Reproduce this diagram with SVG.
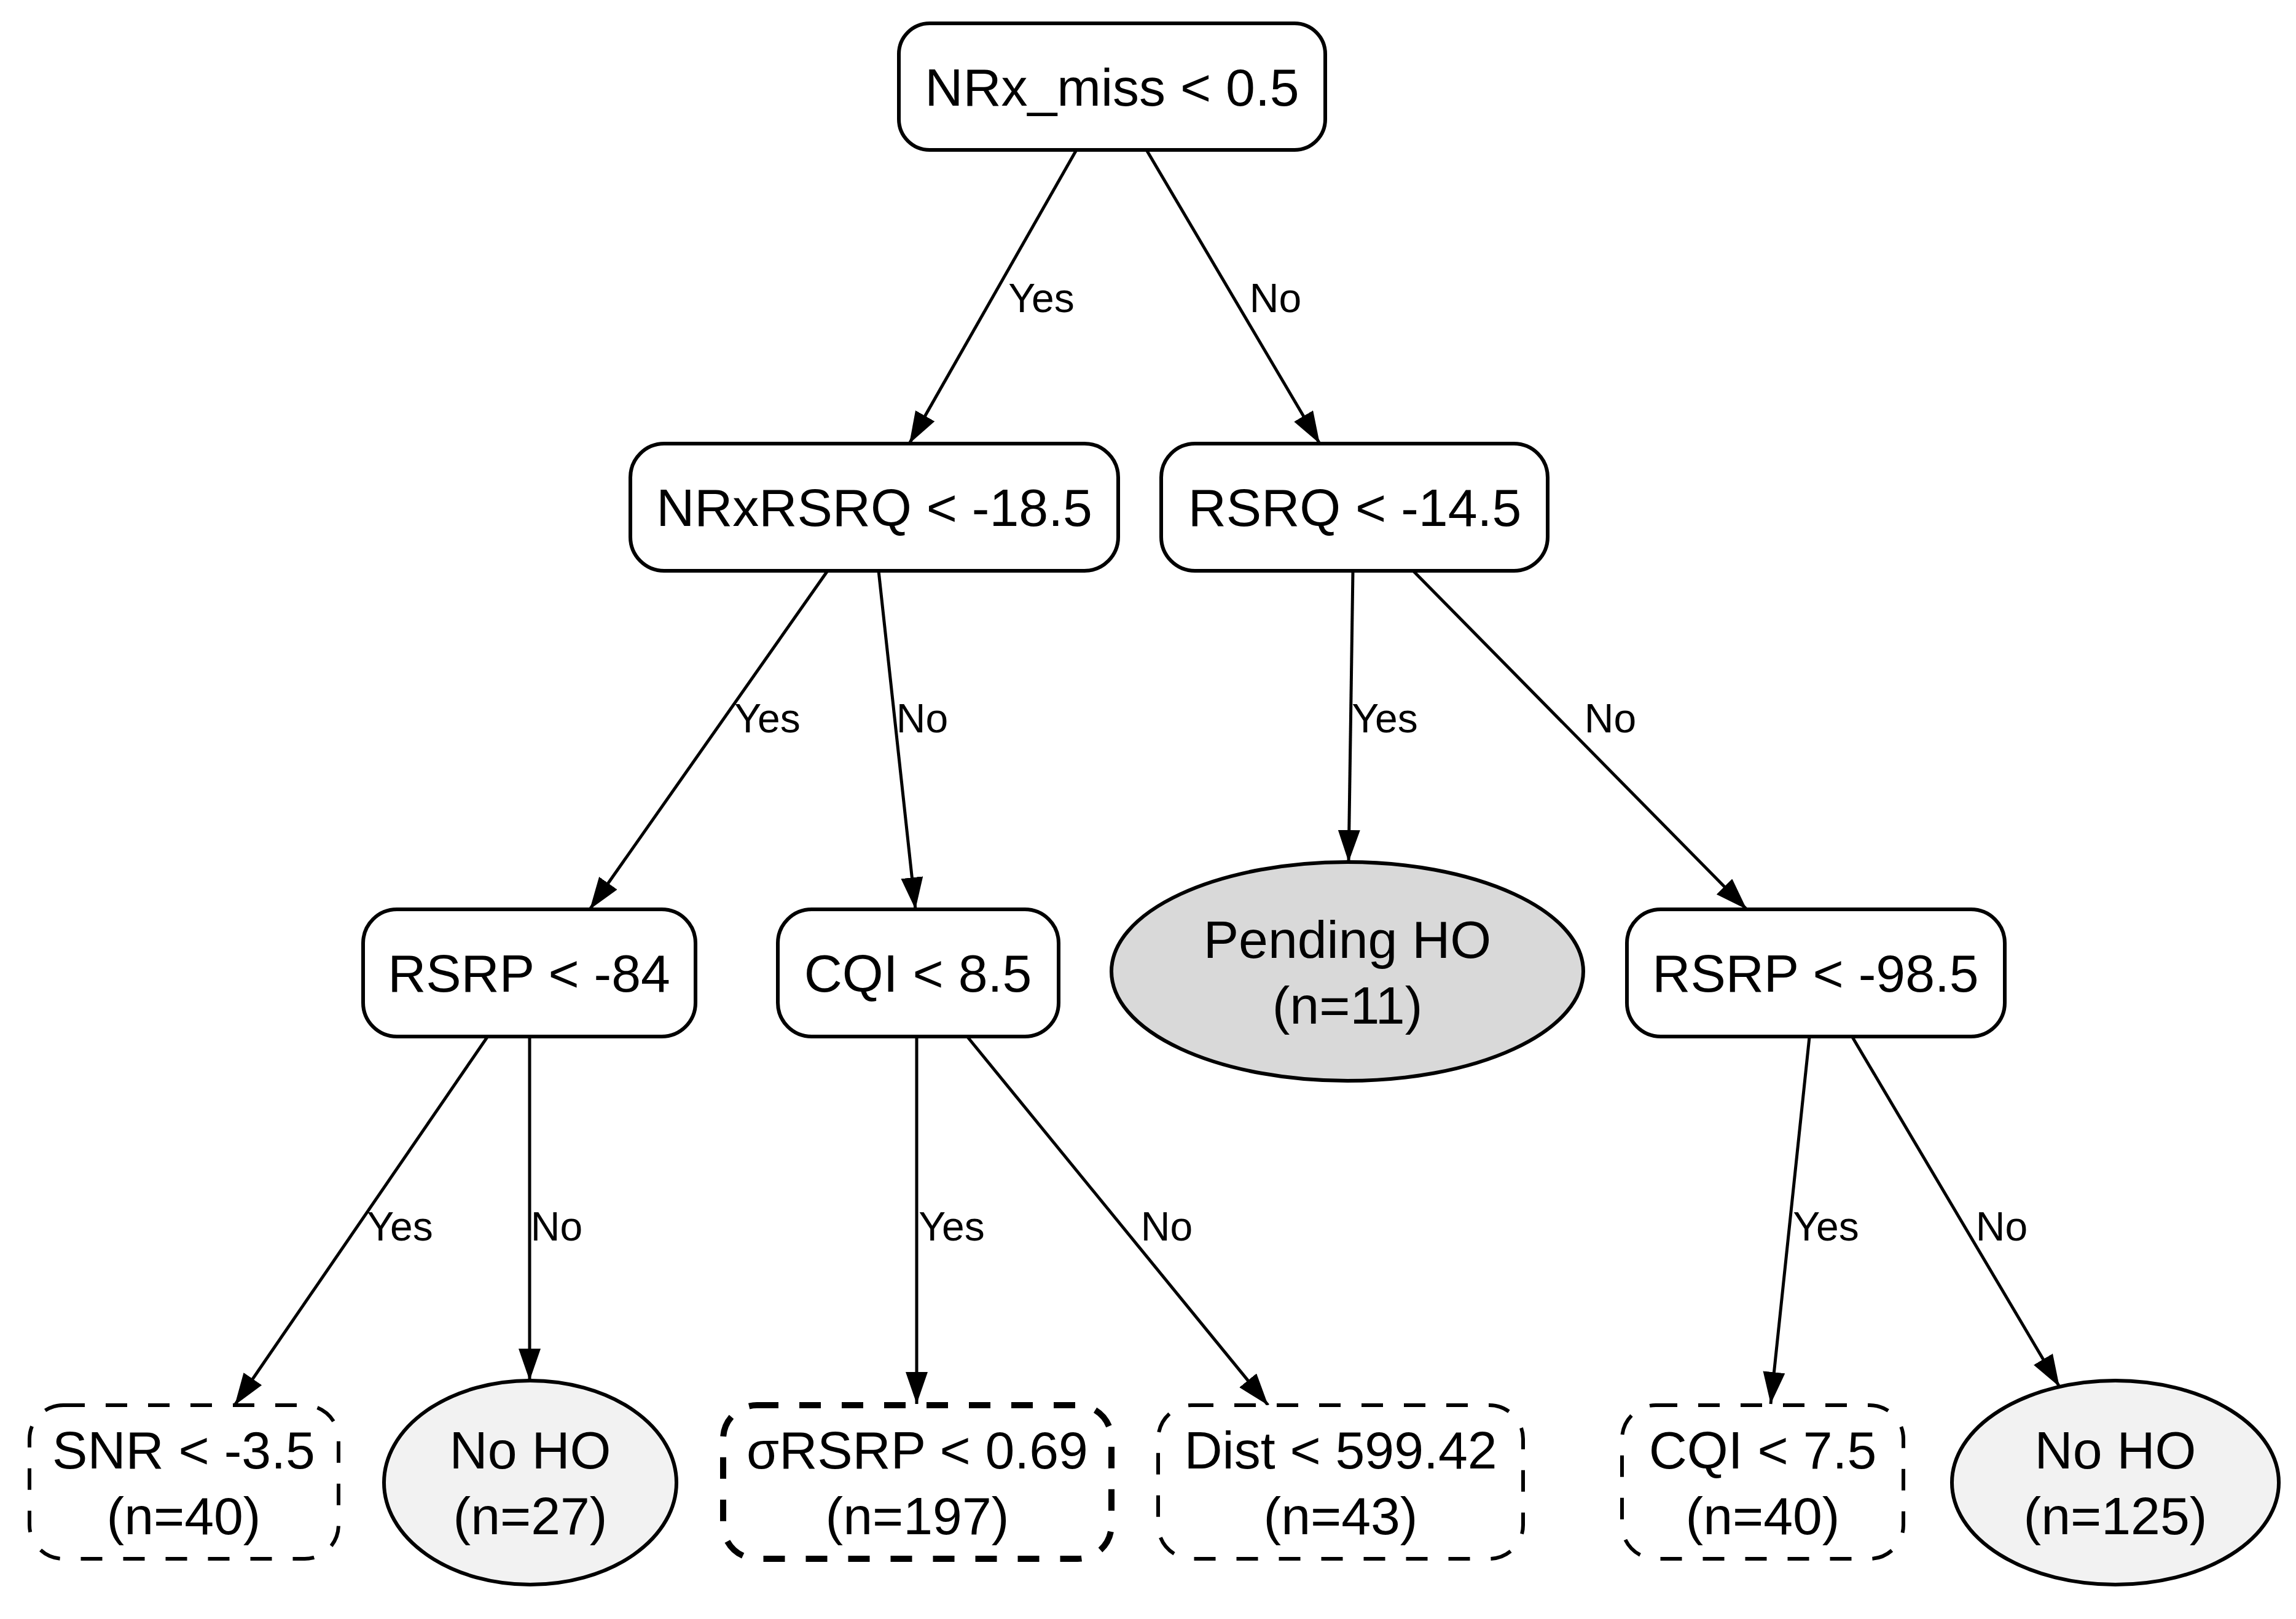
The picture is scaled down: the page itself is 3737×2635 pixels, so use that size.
<svg xmlns="http://www.w3.org/2000/svg" width="3737" height="2635" viewBox="0 0 3737 2635">
<style>
.t{font-family:"Liberation Sans",Arial,sans-serif;font-size:86px;text-anchor:middle;fill:#000}
.l{font-family:"Liberation Sans",Arial,sans-serif;font-size:66px;text-anchor:middle;fill:#000}
.box{fill:#fff;stroke:#000;stroke-width:6}
.dash{fill:#fff;stroke:#000;stroke-width:6;stroke-dasharray:35 34}
.thick{fill:#fff;stroke:#000;stroke-width:10;stroke-dasharray:35 34}
.leafg{fill:#d9d9d9;stroke:#000;stroke-width:6}
.leafl{fill:#f2f2f2;stroke:#000;stroke-width:6}
.e{stroke:#000;stroke-width:5;fill:none;marker-end:url(#arr)}
</style>
<defs>
<marker id="arr" markerUnits="userSpaceOnUse" markerWidth="54" markerHeight="38" refX="52" refY="18" orient="auto" viewBox="0 0 54 38">
<path d="M0,0 L52,18 L0,36 Z" fill="#000"/>
</marker>
</defs>
<rect width="3737" height="2635" fill="#fff"/>
<g id="edges">
<line class="e" x1="1752" y1="244" x2="1480" y2="722"/>
<line class="e" x1="1866" y1="244" x2="2148" y2="722"/>
<line class="e" x1="1347" y1="929" x2="960" y2="1480"/>
<line class="e" x1="1430" y1="929" x2="1490" y2="1480"/>
<line class="e" x1="2202" y1="929" x2="2195" y2="1403"/>
<line class="e" x1="2300" y1="929" x2="2843" y2="1480"/>
<line class="e" x1="793" y1="1688" x2="382" y2="2287"/>
<line class="e" x1="862" y1="1688" x2="862" y2="2247"/>
<line class="e" x1="1492" y1="1688" x2="1492" y2="2285"/>
<line class="e" x1="1575" y1="1688" x2="2064" y2="2287"/>
<line class="e" x1="2945" y1="1688" x2="2882" y2="2285"/>
<line class="e" x1="3015" y1="1688" x2="3352" y2="2257"/>
<text class="l" x="1695" y="508">Yes</text>
<text class="l" x="2076" y="508">No</text>
<text class="l" x="1249" y="1192">Yes</text>
<text class="l" x="1501" y="1192">No</text>
<text class="l" x="2254" y="1192">Yes</text>
<text class="l" x="2621" y="1192">No</text>
<text class="l" x="651" y="2019">Yes</text>
<text class="l" x="906" y="2019">No</text>
<text class="l" x="1549" y="2019">Yes</text>
<text class="l" x="1899" y="2019">No</text>
<text class="l" x="2972" y="2019">Yes</text>
<text class="l" x="3258" y="2019">No</text>
</g>
<g id="n_root">
<rect class="box" x="1463" y="38" width="694" height="206" rx="50"/>
<text class="t" x="1810" y="172">NRx_miss &lt; 0.5</text>
</g>
<g id="n_nrxrsrq">
<rect class="box" x="1026" y="722" width="794" height="207" rx="55"/>
<text class="t" x="1423" y="856">NRxRSRQ &lt; -18.5</text>
</g>
<g id="n_rsrq">
<rect class="box" x="1890" y="722" width="629" height="207" rx="55"/>
<text class="t" x="2205" y="856">RSRQ &lt; -14.5</text>
</g>
<g id="n_rsrp84">
<rect class="box" x="591" y="1480" width="541" height="207" rx="55"/>
<text class="t" x="861" y="1614">RSRP &lt; -84</text>
</g>
<g id="n_cqi85">
<rect class="box" x="1266" y="1480" width="457" height="207" rx="55"/>
<text class="t" x="1494" y="1614">CQI &lt; 8.5</text>
</g>
<g id="n_pending">
<ellipse class="leafg" cx="2193" cy="1581" rx="384" ry="178"/>
<text class="t" x="2193" y="1559">Pending HO</text>
<text class="t" x="2193" y="1666">(n=11)</text>
</g>
<g id="n_rsrp985">
<rect class="box" x="2648" y="1480" width="615" height="207" rx="55"/>
<text class="t" x="2955" y="1614">RSRP &lt; -98.5</text>
</g>
<g id="n_snr">
<rect class="dash" x="48" y="2287" width="503" height="250" rx="55"/>
<text class="t" x="299" y="2390">SNR &lt; -3.5</text>
<text class="t" x="299" y="2497">(n=40)</text>
</g>
<g id="n_noho27">
<ellipse class="leafl" cx="863" cy="2413" rx="238" ry="166"/>
<text class="t" x="863" y="2390">No HO</text>
<text class="t" x="863" y="2497">(n=27)</text>
</g>
<g id="n_srsrp">
<rect class="thick" x="1177" y="2287" width="632" height="250" rx="55"/>
<text class="t" x="1493" y="2390">σRSRP &lt; 0.69</text>
<text class="t" x="1493" y="2497">(n=197)</text>
</g>
<g id="n_dist">
<rect class="dash" x="1885" y="2287" width="594" height="250" rx="55"/>
<text class="t" x="2182" y="2390">Dist &lt; 599.42</text>
<text class="t" x="2182" y="2497">(n=43)</text>
</g>
<g id="n_cqi75">
<rect class="dash" x="2640" y="2287" width="458" height="250" rx="55"/>
<text class="t" x="2869" y="2390">CQI &lt; 7.5</text>
<text class="t" x="2869" y="2497">(n=40)</text>
</g>
<g id="n_noho125">
<ellipse class="leafl" cx="3443" cy="2413" rx="266" ry="166"/>
<text class="t" x="3443" y="2390">No HO</text>
<text class="t" x="3443" y="2497">(n=125)</text>
</g>
</svg>
